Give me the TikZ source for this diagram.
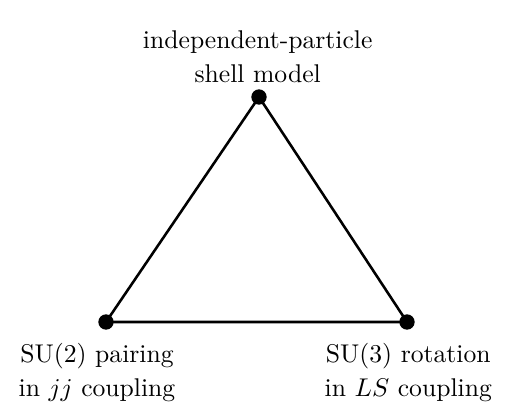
\documentclass[tikz,border=0pt]{standalone}
\usetikzlibrary{positioning}
\tikzset{
  vertex/.style={circle, fill, inner sep=0pt, minimum size=6pt},
  edge/.style={line width=1pt},
  caption/.style={align=center, inner sep=0pt}
}
\begin{document}
\begin{tikzpicture}[x=0.39pt,y=-0.39pt]
\useasboundingbox (0,0) rectangle (515,405);
% the three limits
\node[vertex] (ipm) at (259,97) {};
\node[vertex] (su2) at (106,322) {};
\node[vertex] (su3) at (407,322) {};
\draw[edge] (ipm.center) -- (su2.center) -- (su3.center) -- cycle;
% labels
\node[caption, above=2pt of ipm, xshift=-0.5pt] (ipmlab) {independent-particle\\[1.3pt]shell model};
\node[caption, below=5pt of su2, xshift=-3.5pt] (su2lab) {SU(2) pairing\\[1.3pt]in $jj$ coupling};
\node[caption, below=5pt of su3, xshift=0.5pt] (su3lab) {SU(3) rotation\\[1.3pt]in $LS$ coupling};
\end{tikzpicture}
\end{document}
